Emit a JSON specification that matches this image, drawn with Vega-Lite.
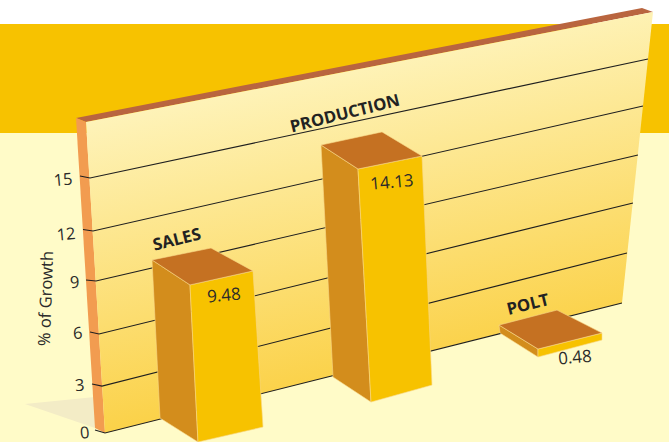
{
"$schema":"https://vega.github.io/schema/vega-lite/v6.json",
"width":669,"height":442,"padding":0,"autosize":{"type":"none"},"background":"#ffffff",
"config":{"view":{"stroke":null},"font":"Open Sans"},
"datasets":{
"backdrop":[{"part":"band","x":0,"x2":669,"v":24.09,"v2":17.68},{"part":"floor","x":0,"x2":669,"v":17.68,"v2":-0.5}],
"frame":[
{"part":"shadow","i":0,"x":25,"v":1.74},{"part":"shadow","i":1,"x":95,"v":2.15},{"part":"shadow","i":2,"x":95,"v":0.32},
{"part":"wall top","i":0,"x":76,"v":18.56},{"part":"wall top","i":1,"x":642,"v":25.03},{"part":"wall top","i":2,"x":653,"v":24.79},{"part":"wall top","i":3,"x":86,"v":18.32},
{"part":"wall side","i":0,"x":76,"v":18.56},{"part":"wall side","i":1,"x":86,"v":18.32},{"part":"wall side","i":2,"x":105,"v":0.03},{"part":"wall side","i":3,"x":95,"v":0.32}],
"wall":[{"i":0,"x":86,"v":18.32},{"i":1,"x":653,"v":24.79},{"i":2,"x":622,"v":7.68},{"i":3,"x":105,"v":0.03}],
"grid":[
{"tick":15,"i":0,"x":80,"v":15.15},{"tick":15,"i":1,"x":90,"v":15.03},{"tick":15,"i":2,"x":648,"v":22.03},
{"tick":12,"i":0,"x":83,"v":12.0},{"tick":12,"i":1,"x":93,"v":11.91},{"tick":12,"i":2,"x":643,"v":19.26},
{"tick":9,"i":0,"x":86,"v":9.03},{"tick":9,"i":1,"x":96,"v":8.97},{"tick":9,"i":2,"x":638,"v":16.38},
{"tick":6,"i":0,"x":90,"v":5.97},{"tick":6,"i":1,"x":99,"v":5.85},{"tick":6,"i":2,"x":633,"v":13.56},
{"tick":3,"i":0,"x":92,"v":2.91},{"tick":3,"i":1,"x":102,"v":2.79},{"tick":3,"i":2,"x":627,"v":10.62},
{"tick":0,"i":0,"x":95,"v":0.21},{"tick":0,"i":1,"x":105,"v":0.03},{"tick":0,"i":2,"x":622,"v":7.68}],
"bars":[
{"part":"SALES left","face":"left","i":0,"x":152,"v":10.21},{"part":"SALES left","face":"left","i":1,"x":190,"v":8.74},{"part":"SALES left","face":"left","i":2,"x":198,"v":-0.5},{"part":"SALES left","face":"left","i":3,"x":160,"v":0.91},
{"part":"SALES front","face":"front","i":0,"x":190,"v":8.74},{"part":"SALES front","face":"front","i":1,"x":253,"v":9.56},{"part":"SALES front","face":"front","i":2,"x":263,"v":0.38},{"part":"SALES front","face":"front","i":3,"x":198,"v":-0.5},
{"part":"SALES top","face":"top","i":0,"x":152,"v":10.21},{"part":"SALES top","face":"top","i":1,"x":211,"v":10.91},{"part":"SALES top","face":"top","i":2,"x":253,"v":9.56},{"part":"SALES top","face":"top","i":3,"x":190,"v":8.74},
{"part":"PRODUCTION left","face":"left","i":0,"x":321,"v":16.97},{"part":"PRODUCTION left","face":"left","i":1,"x":358,"v":15.56},{"part":"PRODUCTION left","face":"left","i":2,"x":371,"v":1.85},{"part":"PRODUCTION left","face":"left","i":3,"x":333,"v":3.32},
{"part":"PRODUCTION front","face":"front","i":0,"x":358,"v":15.56},{"part":"PRODUCTION front","face":"front","i":1,"x":422,"v":16.32},{"part":"PRODUCTION front","face":"front","i":2,"x":432,"v":2.85},{"part":"PRODUCTION front","face":"front","i":3,"x":371,"v":1.85},
{"part":"PRODUCTION top","face":"top","i":0,"x":321,"v":16.97},{"part":"PRODUCTION top","face":"top","i":1,"x":382,"v":17.74},{"part":"PRODUCTION top","face":"top","i":2,"x":422,"v":16.32},{"part":"PRODUCTION top","face":"top","i":3,"x":358,"v":15.56},
{"part":"POLT left","face":"left","i":0,"x":499,"v":6.38},{"part":"POLT left","face":"left","i":1,"x":538,"v":4.97},{"part":"POLT left","face":"left","i":2,"x":538,"v":4.5},{"part":"POLT left","face":"left","i":3,"x":500,"v":5.91},
{"part":"POLT front","face":"front","i":0,"x":538,"v":4.97},{"part":"POLT front","face":"front","i":1,"x":602,"v":5.91},{"part":"POLT front","face":"front","i":2,"x":602,"v":5.5},{"part":"POLT front","face":"front","i":3,"x":538,"v":4.5},
{"part":"POLT top","face":"top","i":0,"x":499,"v":6.38},{"part":"POLT top","face":"top","i":1,"x":557,"v":7.26},{"part":"POLT top","face":"top","i":2,"x":602,"v":5.91},{"part":"POLT top","face":"top","i":3,"x":538,"v":4.97}],
"names":[{"label":"SALES","x":177,"v":11.38},{"label":"PRODUCTION","x":345,"v":18.79},{"label":"POLT","x":528,"v":7.56}],
"values":[{"label":"9.48","x":224,"v":8.09},{"label":"14.13","x":392,"v":14.74},{"label":"0.48","x":575,"v":4.44}]
},
"encoding":{
"x":{"field":"x","type":"quantitative","scale":{"domain":[0,669],"nice":false,"zero":false},"axis":null},
"y":{"field":"v","type":"quantitative","scale":{"domain":[-0.5,25.5],"nice":false,"zero":false},
"axis":{"title":"% of Growth","values":[0,3,6,9,12,15],"offset":-105,"domain":false,"ticks":false,"grid":false,"zindex":1,
"labelFont":"Open Sans","labelFontSize":16.5,"labelColor":"#2a2a2a","labelAngle":355,"labelAlign":"right","labelBaseline":"middle",
"labelPadding":{"condition":[{"test":"datum.value==15","value":33},{"test":"datum.value==12","value":30},{"test":"datum.value==9","value":26},{"test":"datum.value==6","value":23},{"test":"datum.value==3","value":21}],"value":16},
"labelOffset":{"condition":[{"test":"datum.value==15","value":0.5},{"test":"datum.value==12","value":4},{"test":"datum.value==9","value":1.5},{"test":"datum.value==6","value":1.5},{"test":"datum.value==3","value":2.5}],"value":-1},
"titleFont":"Open Sans","titleFontSize":16.5,"titleFontWeight":"normal","titleColor":"#2a2a2a","titleAngle":272,"titleX":-59,"titleY":298,"titleAlign":"center","titleBaseline":"middle"}}
},
"layer":[
{"data":{"name":"backdrop"},"mark":{"type":"rect"},
"encoding":{"x2":{"field":"x2"},"y2":{"field":"v2"},"fill":{"field":"part","type":"nominal","legend":null,"scale":{"domain":["band","floor","shadow","wall top","wall side","left","front","top"],"range":["#F7C200","#FFFBC8","#F3ECC6","#B9653F","#F29C50","#D38D1C","#F7C200","#C57122"]}}}},
{"data":{"name":"frame"},"mark":{"type":"line","filled":true,"interpolate":"linear-closed"},
"encoding":{"order":{"field":"i","type":"ordinal"},"fill":{"field":"part","type":"nominal","legend":null}}},
{"data":{"name":"wall"},"mark":{"type":"line","filled":true,"interpolate":"linear-closed","fill":{"gradient":"linear","x1":0.05,"y1":0.245,"x2":0.254,"y2":0.925,"stops":[{"offset":0,"color":"#FEF3B9"},{"offset":1,"color":"#FBD24A"}]}},
"encoding":{"order":{"field":"i","type":"ordinal"}}},
{"data":{"name":"grid"},"mark":{"type":"line","color":"#1f1f1f","strokeWidth":1.1},
"encoding":{"order":{"field":"i","type":"ordinal"},"detail":{"field":"tick","type":"nominal"}}},
{"data":{"name":"bars"},"mark":{"type":"line","filled":true,"interpolate":"linear-closed","stroke":"#F9D98A","strokeWidth":0.6},
"encoding":{"order":{"field":"i","type":"ordinal"},"detail":{"field":"part","type":"nominal"},"fill":{"field":"face","type":"nominal","legend":null}}},
{"data":{"name":"names"},"mark":{"type":"text","font":"Open Sans","fontWeight":"bold","fontSize":16.7,"color":"#222222","angle":346,"align":"center","baseline":"middle"},
"encoding":{"text":{"field":"label","type":"nominal"}}},
{"data":{"name":"values"},"mark":{"type":"text","font":"Open Sans","fontSize":17,"color":"#2a2a2a","angle":355,"align":"center","baseline":"middle"},
"encoding":{"text":{"field":"label","type":"nominal"}}}
]
}
